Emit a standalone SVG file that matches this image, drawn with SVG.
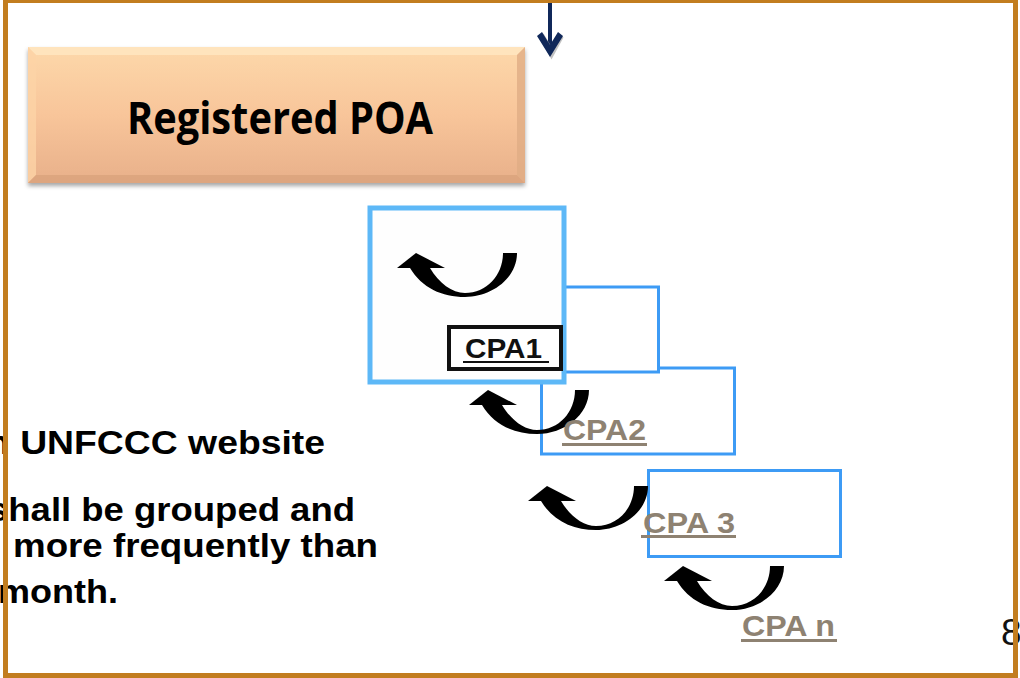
<svg xmlns="http://www.w3.org/2000/svg" width="1020" height="678" viewBox="0 0 1020 678">
  <style>
    .cpa-box { fill: #ffffff; stroke: #3D9BF5; stroke-width: 3; }
    .cpa-lbl { font-family: "Liberation Sans", Arial, sans-serif; font-weight: bold; font-size: 30px; fill: #8E8272; }
    .body { font-family: "Liberation Sans", Arial, sans-serif; font-weight: bold; font-size: 33px; fill: #000000; }
    .ul { fill: #8E8272; }
  </style>
  <defs>
    <linearGradient id="poaGrad" x1="0" y1="0" x2="0" y2="1">
      <stop offset="0" stop-color="#FDD8AA"/>
      <stop offset="0.5" stop-color="#F8C59A"/>
      <stop offset="1" stop-color="#E8B08A"/>
    </linearGradient>
    <filter id="shadow" x="-5%" y="-10%" width="110%" height="130%">
      <feDropShadow dx="0" dy="3" stdDeviation="2" flood-color="#000" flood-opacity="0.35"/>
    </filter>
    <g id="uturn">
      <path d="M0,15 L19,0 L48,15 Z" fill="#000"/>
      <path d="M120,0 C120,25 95,44 68,44 C45,44 25,35 13,15 L33,15 C42,30 55,40 68,40 C90,40 106,22 106,0 Z" fill="#000"/>
    </g>
  </defs>

  <rect x="0" y="0" width="1020" height="678" fill="#ffffff"/>

  <!-- Left body text (clipped by frame) -->
  <g id="body-text">
    <text class="body" x="-13" y="454" textLength="338" lengthAdjust="spacingAndGlyphs">n UNFCCC website</text>
    <text class="body" x="-12" y="521" textLength="367" lengthAdjust="spacingAndGlyphs">shall be grouped and</text>
    <text class="body" x="13" y="557" textLength="365" lengthAdjust="spacingAndGlyphs">more frequently than</text>
    <text class="body" x="-2" y="603" textLength="120" lengthAdjust="spacingAndGlyphs">month.</text>
  </g>

  <!-- Registered POA -->
  <g id="node-poa">
    <rect x="28" y="47" width="497" height="136" fill="url(#poaGrad)" filter="url(#shadow)"/>
    <polygon points="28,47 525,47 517,55 36,55" fill="#FFE7C2" opacity="0.8"/>
    <polygon points="28,47 36,55 36,175 28,183" fill="#FCD3A6" opacity="0.8"/>
    <polygon points="28,183 36,175 517,175 525,183" fill="#D9A27C" opacity="0.8"/>
    <polygon points="525,47 525,183 517,175 517,55" fill="#E0AC84" opacity="0.8"/>
    <text x="127" y="134" font-family="'Open Sans', 'Liberation Sans', sans-serif" font-weight="bold" font-size="44" fill="#000" textLength="306" lengthAdjust="spacingAndGlyphs">Registered POA</text>
  </g>

  <!-- CPA boxes -->
  <g id="node-cpa4">
    <rect class="cpa-box" x="648.5" y="470.5" width="192" height="86"/>
  </g>
  <g id="node-cpa3">
    <rect class="cpa-box" x="541.5" y="368" width="193" height="86"/>
  </g>
  <g id="node-cpa2">
    <rect class="cpa-box" x="470.5" y="287" width="188" height="85"/>
  </g>
  <g id="node-cpa1">
    <rect x="370" y="208" width="194" height="174" fill="#FEFEFE" stroke="#5DB8F7" stroke-width="5"/>
    <rect x="449" y="327" width="112" height="42" fill="#ffffff" stroke="#111" stroke-width="4"/>
    <text x="465" y="358" font-family="'Liberation Sans', Arial, sans-serif" font-weight="bold" font-size="28" fill="#111" textLength="77" lengthAdjust="spacingAndGlyphs">CPA1</text>
    <rect x="463" y="361" width="86" height="2" fill="#111"/>
  </g>

  <!-- Connectors -->
  <g id="connectors">
    <line x1="550" y1="0" x2="550" y2="48" stroke="#10285A" stroke-width="4"/>
    <polygon points="538,36 542,32 550,45 558,32 562,36 550,58" fill="#999" transform="translate(1.5,1.5)" opacity="0.6"/>
    <polygon points="537,36 542,32 550,45 558,32 563,36 550,57" fill="#10285A"/>
    <use href="#uturn" transform="translate(397,253)"/>
    <use href="#uturn" transform="translate(469,390)"/>
    <use href="#uturn" transform="translate(528,486)"/>
    <use href="#uturn" transform="translate(664,566)"/>
  </g>

  <!-- CPA labels -->
  <g id="label-cpa2">
    <text class="cpa-lbl" x="563" y="440" textLength="83" lengthAdjust="spacingAndGlyphs">CPA2</text>
    <rect class="ul" x="562" y="443" width="85" height="3"/>
  </g>
  <g id="label-cpa3">
    <text class="cpa-lbl" x="643" y="533" textLength="92" lengthAdjust="spacingAndGlyphs">CPA 3</text>
    <rect class="ul" x="641" y="535" width="95" height="3"/>
  </g>
  <g id="label-cpan">
    <text class="cpa-lbl" x="742" y="636" textLength="93" lengthAdjust="spacingAndGlyphs">CPA n</text>
    <rect class="ul" x="741" y="639" width="96" height="3"/>
  </g>

  <!-- Page number -->
  <text x="1001" y="645" font-family="'Liberation Sans', Arial, sans-serif" font-size="37" fill="#111">8</text>

  <!-- Frame -->
  <rect x="5.5" y="0.5" width="1010" height="675" fill="none" stroke="#C27D1F" stroke-width="5"/>
</svg>
